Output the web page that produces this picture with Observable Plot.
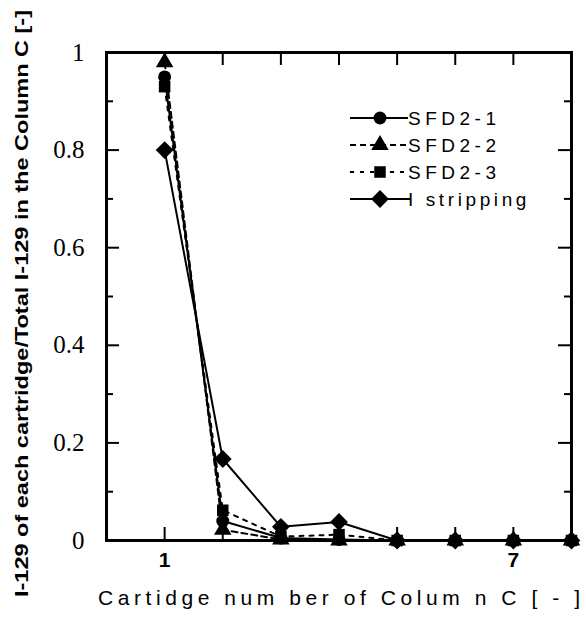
<!DOCTYPE html>
<html><head><meta charset="utf-8">
<script src="https://cdn.jsdelivr.net/npm/d3@7"></script>
<script src="https://cdn.jsdelivr.net/npm/@observablehq/plot@0.6"></script>
<style>body{margin:0;background:#fff} #chart{width:586px;height:629px}</style>
</head><body><div id="chart"></div>
<script>
const cartridge = [1, 2, 3, 4, 5, 6, 7, 8];
const sfd21 = [0.95, 0.040, 0.005, 0.002, 0, 0, 0, 0];
const sfd22 = [0.98, 0.022, 0.002, 0.000, 0, 0, 0, 0];
const sfd23 = [0.93, 0.062, 0.008, 0.012, 0, 0, 0, 0];
const stripping = [0.80, 0.167, 0.028, 0.038, 0, 0, 0, 0];
const seriesNames = ["SFD2-1", "SFD2-2", "SFD2-3", "I stripping"];
const seriesValues = [sfd21, sfd22, sfd23, stripping];
const symbols = ["circle", "triangle", "square", "diamond2"];
const dashes = [null, "6,4", "4,6", null];
const xTickLabels = [1, 7];
const xTicks = [1, 2, 3, 4, 5, 6, 7];
const yMajor = [0, 0.2, 0.4, 0.6, 0.8, 1];
const yMinor = [0.1, 0.3, 0.5, 0.7, 0.9];
const xLabel = "Cartidge num ber of Colum n C [ - ]";
const yLabel = "I-129 of each cartridge/Total I-129 in the Column C [-]";

const W = 586, H = 629, mL = 106, mR = 15, mT = 52, mB = 89;
const pw = W - mL - mR, ph = H - mT - mB;

const rows = seriesNames.flatMap((s, i) => cartridge.map((c, j) => ({series: s, x: c, y: seriesValues[i][j]})));

const marks = [
  Plot.tickX(xTicks, {x: d => d, insetTop: ph - 13, strokeWidth: 2}),
  Plot.tickX(xTicks, {x: d => d, insetBottom: ph - 13, strokeWidth: 2}),
  Plot.tickY(yMajor, {y: d => d, insetRight: pw - 13, strokeWidth: 2}),
  Plot.tickY(yMinor, {y: d => d, insetRight: pw - 7, strokeWidth: 2}),
  Plot.tickY(yMajor, {y: d => d, insetLeft: pw - 13, strokeWidth: 2}),
  Plot.tickY(yMinor, {y: d => d, insetLeft: pw - 7, strokeWidth: 2}),
  Plot.axisY(yMajor, {anchor: "left", tickSize: 0, tickPadding: 22, fontFamily: "Liberation Serif", fontSize: 25, tickFormat: d => String(d), label: null}),
  Plot.axisX(xTickLabels, {anchor: "bottom", tickSize: 0, tickPadding: 12, fontFamily: "Liberation Sans", fontWeight: "bold", fontSize: 21, tickFormat: d => String(d), label: null}),
];
seriesNames.forEach((s, i) => {
  const d = rows.filter(r => r.series === s);
  marks.push(Plot.line(d, {x: "x", y: "y", stroke: "black", strokeWidth: 2, strokeDasharray: dashes[i]}));
});
seriesNames.forEach((s, i) => {
  const d = rows.filter(r => r.series === s);
  marks.push(Plot.dot(d, {x: "x", y: "y", symbol: () => symbols[i], fill: "black", stroke: "none", r: i === 3 ? 8 : 6.5}));
});
marks.push(Plot.frame({stroke: "black", strokeWidth: 3}));
marks.push(Plot.text([yLabel], {text: d => d, frameAnchor: "left", textAnchor: "middle", lineAnchor: "middle", dx: -85, dy: 7, rotate: -90, fontFamily: "Liberation Sans", fontWeight: "bold", fontSize: 19}));
marks.push(Plot.text([xLabel], {text: d => d, frameAnchor: "bottom", dy: 64, fontFamily: "Liberation Sans", fontSize: 21}));

const chart = Plot.plot({
  width: W, height: H, marginLeft: mL, marginRight: mR, marginTop: mT, marginBottom: mB,
  x: {domain: [0, 8], axis: null},
  y: {domain: [0, 1], axis: null},
  symbol: {type: "identity"},
  style: {background: "white", color: "black", overflow: "visible"},
  marks
});
document.getElementById("chart").append(chart);

const svg = d3.select(chart);
svg.selectAll("text").each(function() {
  const t = this.textContent;
  if (t === xLabel) d3.select(this).attr("textLength", 482).attr("lengthAdjust", "spacing");
  if (t === yLabel) d3.select(this).attr("textLength", 587).attr("lengthAdjust", "spacingAndGlyphs");
});

// legend
const leg = svg.append("g").attr("aria-label", "legend").attr("text-anchor", "start");
const legY = [118, 145, 172, 199];
const sym = [d3.symbolCircle, d3.symbolTriangle, d3.symbolSquare, d3.symbolDiamond2];
const symR = [6.5, 6.5, 6.5, 8];
seriesNames.forEach((s, i) => {
  const y = legY[i];
  leg.append("line").attr("x1", 350).attr("x2", i === 3 ? 411 : 408).attr("y1", y).attr("y2", y)
    .attr("stroke", "black").attr("stroke-width", 2).attr("stroke-dasharray", dashes[i]);
  leg.append("path").attr("transform", `translate(380,${y})`)
    .attr("d", d3.symbol(sym[i], Math.PI * symR[i] * symR[i])()).attr("fill", "black");
  leg.append("text").attr("x", 408).attr("y", y).attr("dy", "0.35em").attr("text-anchor", "start")
    .attr("font-family", "Liberation Sans").attr("font-size", 19).attr("letter-spacing", i === 3 ? 3.6 : 4.5)
    .attr("fill", "black").text(s);
});
</script></body></html>
